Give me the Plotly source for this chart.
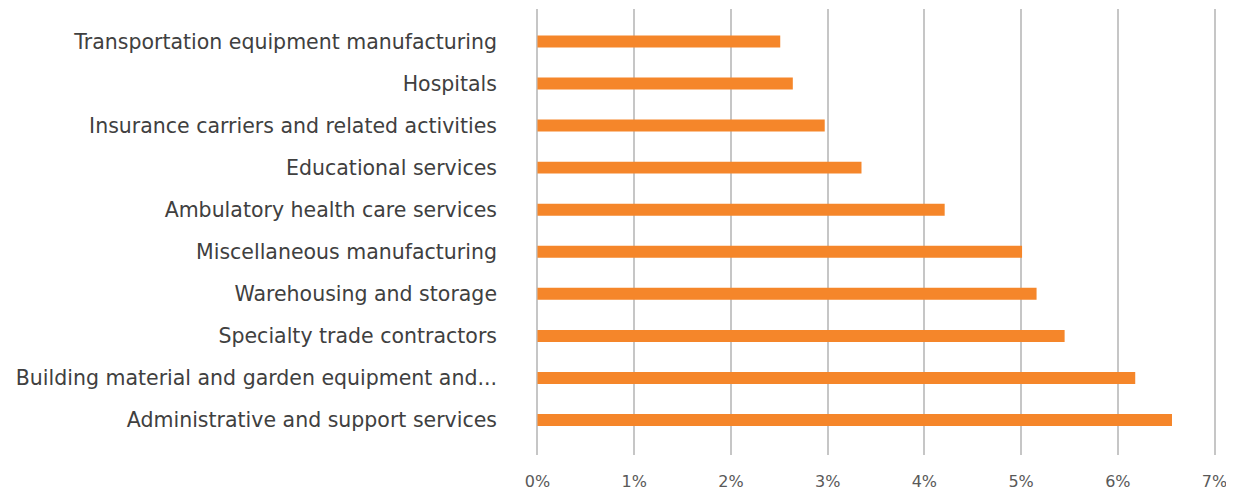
import plotly.graph_objects as go

categories = [
    "Administrative and support services",
    "Building material and garden equipment and...",
    "Specialty trade contractors",
    "Warehousing and storage",
    "Miscellaneous manufacturing",
    "Ambulatory health care services",
    "Educational services",
    "Insurance carriers and related activities",
    "Hospitals",
    "Transportation equipment manufacturing",
]
values = [0.0656, 0.0618, 0.0545, 0.0516, 0.0501, 0.0421, 0.0335, 0.0297, 0.0264, 0.0251]
x_ticks = [0, 0.01, 0.02, 0.03, 0.04, 0.05, 0.06, 0.07]
x_tick_labels = ["0%", "1%", "2%", "3%", "4%", "5%", "6%", "7%"]

FONT = "DejaVu Sans"

fig = go.Figure(
    go.Bar(
        x=values,
        y=categories,
        orientation="h",
        marker=dict(color="#F5862A", line=dict(width=0)),
        width=0.285,
        hoverinfo="x+y",
    )
)

# page body has an 8px default margin; figure sized to fit inside the window
fig.update_layout(
    width=1226,
    height=485,
    margin=dict(l=528, r=18, t=1, b=38),
    paper_bgcolor="white",
    plot_bgcolor="white",
    showlegend=False,
    font=dict(family=FONT, color="#404040"),
)

fig.update_xaxes(
    range=[-0.00015, 0.07015],
    tickvals=x_ticks,
    ticktext=x_tick_labels,
    showgrid=True,
    gridcolor="#C6C6C6",
    gridwidth=1.5,
    zeroline=False,
    showline=False,
    ticks="",
    tickfont=dict(family=FONT, size=16, color="#595959"),
    ticklabelstandoff=15,
    automargin=False,
)

fig.update_yaxes(
    type="category",
    categoryorder="array",
    categoryarray=categories,
    range=[-0.83, 9.77],
    showgrid=False,
    zeroline=False,
    showline=False,
    ticks="",
    tickfont=dict(family=FONT, size=20.5, color="#404040"),
    ticklabelstandoff=38,
    automargin=False,
)

fig.write_html("out.html")
